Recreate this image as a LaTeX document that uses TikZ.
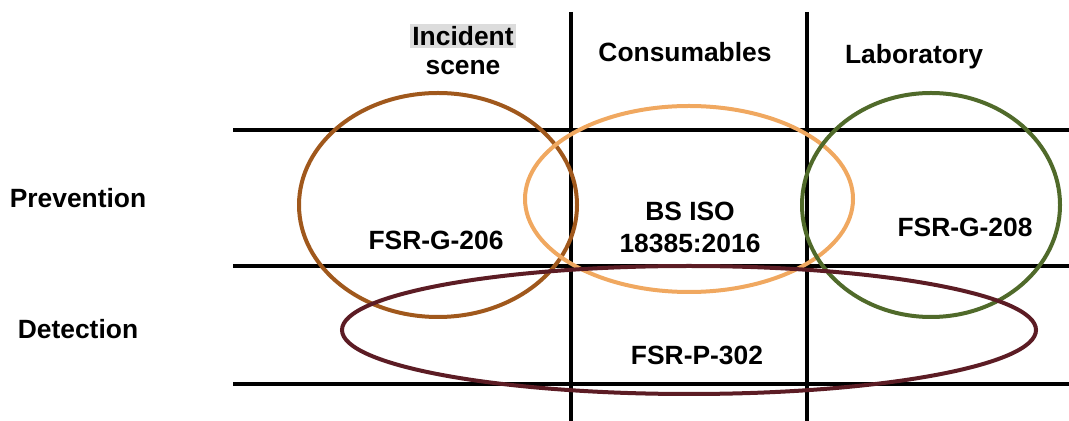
\documentclass[tikz,border=0pt]{standalone}
\usepackage{fontspec}
\setmainfont{Liberation Sans}
\usetikzlibrary{positioning}

\definecolor{scenebrown}{RGB}{160,88,28}
\definecolor{consorange}{RGB}{240,168,96}
\definecolor{labgreen}{RGB}{80,106,42}
\definecolor{detectred}{RGB}{92,28,36}
\definecolor{hlgrey}{RGB}{220,220,220}

\begin{document}
\begin{tikzpicture}[x=0.5pt, y=-0.5pt,
		gridline/.style = {draw=black, line width=1.8pt},
		ring/.style = {line width=2pt},
		lbl/.style = {font=\bfseries\fontsize{13.2}{16}\selectfont, align=center, inner sep=1pt}
                    ]
		\useasboundingbox (0,0) rectangle (1069,421);

		% grid
		\draw[gridline] (233,130) -- (1069,130)
		                (233,266) -- (1069,266)
		                (233,384) -- (1069,384);
		\draw[gridline] (571,12) -- (571,421)
		                (807,12) -- (807,421);

		% ellipses
		\draw[ring, scenebrown] (438,205) ellipse [x radius=139, y radius=112];
		\draw[ring, consorange] (689,199) ellipse [x radius=164, y radius=93];
		\draw[ring, labgreen]   (931,205) ellipse [x radius=129, y radius=112];
		\draw[ring, detectred]  (689,330) ellipse [x radius=347, y radius=64];

		% headings
		\node(inc) [lbl, fill=hlgrey] at (463,36) {Incident};
		\node(scn) [lbl] at (463,68) {scene};
		\node(con) [lbl] at (685,52) {Consumables};
		\node(lab) [lbl] at (914,57) {Laboratory};
		\node(prev) [lbl] at (78,198) {Prevention};
		\node(det)  [lbl] at (78,329) {Detection};

		% labels
		\node(g206) [lbl] at (436,240) {FSR-G-206};
		\node(iso)  [lbl] at (690,227) {BS ISO\\18385:2016};
		\node(g208) [lbl] at (965,227) {FSR-G-208};
		\node(p302) [lbl] at (697,355) {FSR-P-302};
	\end{tikzpicture}
\end{document}
